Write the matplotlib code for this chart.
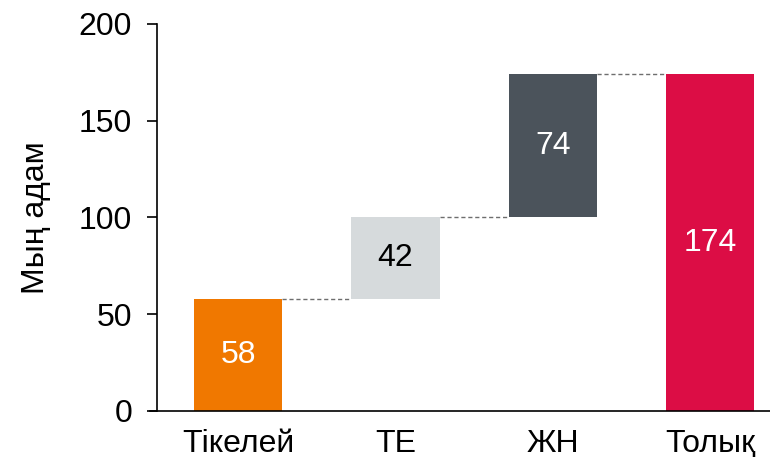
import matplotlib.pyplot as plt

categories = ["Тікелей", "ТЕ", "ЖН", "Толық"]
values = [58, 42, 74, 174]
bottoms = [0, 58, 100, 0]
colors = ["#F07800", "#D6DADC", "#4B535B", "#DC0D45"]
label_colors = ["white", "black", "white", "white"]

plt.rcParams["font.family"] = ["Liberation Sans", "DejaVu Sans"]

fig = plt.figure(figsize=(7.7, 4.57), dpi=100)
ax = fig.add_axes([0.204, 0.1007, 0.796, 0.8468])

x = list(range(len(categories)))
width = 0.56
ax.bar(x, values, bottom=bottoms, width=width, color=colors, zorder=2)

# connectors between bars
for i in range(len(x) - 1):
    level = bottoms[i] + values[i]
    ax.plot([x[i] + width / 2, x[i + 1] - width / 2], [level, level],
            ls=(0, (3, 2)), color="#6E6E6E", lw=1, zorder=1)

for xi, v, b, c in zip(x, values, bottoms, label_colors):
    ax.text(xi, b + v / 2, str(v), ha="center", va="center",
            fontsize=23, color=c)

ax.set_xlim(-0.515, 3.38)
ax.set_ylim(0, 200)
ax.set_yticks([0, 50, 100, 150, 200])
ax.set_xticks(x)
ax.set_xticklabels(categories)
ax.tick_params(axis="y", labelsize=23, length=7, width=1.2, pad=11)
ax.tick_params(axis="x", labelsize=23, length=0, pad=13)
ax.set_ylabel("Мың адам", fontsize=23, labelpad=20)

for s in ["top", "right"]:
    ax.spines[s].set_visible(False)
ax.spines["left"].set_linewidth(1.2)
ax.spines["bottom"].set_linewidth(1.2)
ax.spines["bottom"].set_bounds(-0.56, 3.38)

fig.savefig("out.png", dpi=100)
